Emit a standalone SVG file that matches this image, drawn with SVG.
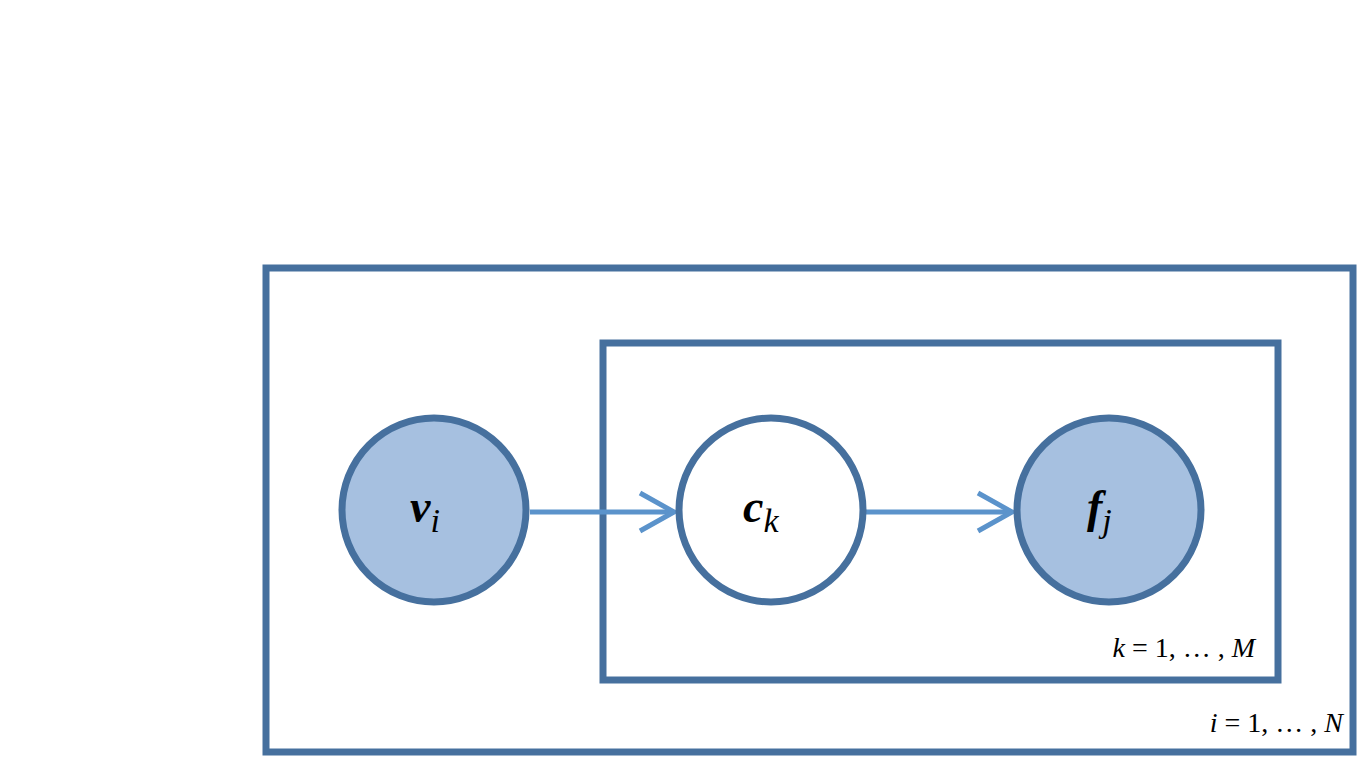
<svg xmlns="http://www.w3.org/2000/svg" width="1358" height="759" viewBox="0 0 1358 759">
<style>
.plate{fill:none;stroke:#46709E;stroke-width:7}
.node{stroke:#46709E;stroke-width:7}
.obs{fill:#A6C0E0}
.lat{fill:#fff}
.edge{stroke:#5B93CB;stroke-width:5;fill:none}
.v{font-family:"Liberation Serif",serif;font-style:italic;font-weight:bold;font-size:46px}
.s{font-family:"Liberation Serif",serif;font-style:italic;font-size:34px}
.lbl{font-family:"Liberation Serif",serif;font-size:28px}
</style>
<defs><marker id="ah" viewBox="0 0 12 12" refX="10" refY="6" markerWidth="6" markerHeight="6" orient="auto" markerUnits="userSpaceOnUse"><path d="M1,1 L10,6 L1,11" fill="none" stroke="#5B93CB" stroke-width="2"/></marker></defs>
<rect width="1358" height="759" fill="#fff"/>
<g id="plate-i"><rect class="plate" x="266" y="268" width="1087" height="484"/><text class="lbl" x="1343" y="732" text-anchor="end"><tspan font-style="italic">i</tspan> = 1, … , <tspan font-style="italic">N</tspan></text></g>
<g id="plate-k"><rect class="plate" x="603" y="343" width="675" height="337"/><text class="lbl" x="1255" y="657" text-anchor="end"><tspan font-style="italic">k</tspan> = 1, … , <tspan font-style="italic">M</tspan></text></g>
<g id="connectors">
<path class="edge" d="M530,512 H674" marker-end="url(#ah)" style="--w:0"/>
<path class="edge" d="M866,512 H1012"/>
<path d="M640,493 L674,512 L640,531 M978,493 L1012,512 L978,531" class="edge"/>
</g>
<g id="v"><circle class="node obs" cx="434" cy="510" r="92"/><text x="410" y="522" class="v">v<tspan class="s" font-weight="normal" dy="10">i</tspan></text></g>
<g id="c"><circle class="node lat" cx="771" cy="510" r="92"/><text x="743" y="522" class="v">c<tspan class="s" font-weight="normal" dy="10">k</tspan></text></g>
<g id="f"><circle class="node obs" cx="1109" cy="510" r="92"/><text x="1087" y="522" class="v">f<tspan class="s" font-weight="normal" dy="10">j</tspan></text></g>
</svg>
